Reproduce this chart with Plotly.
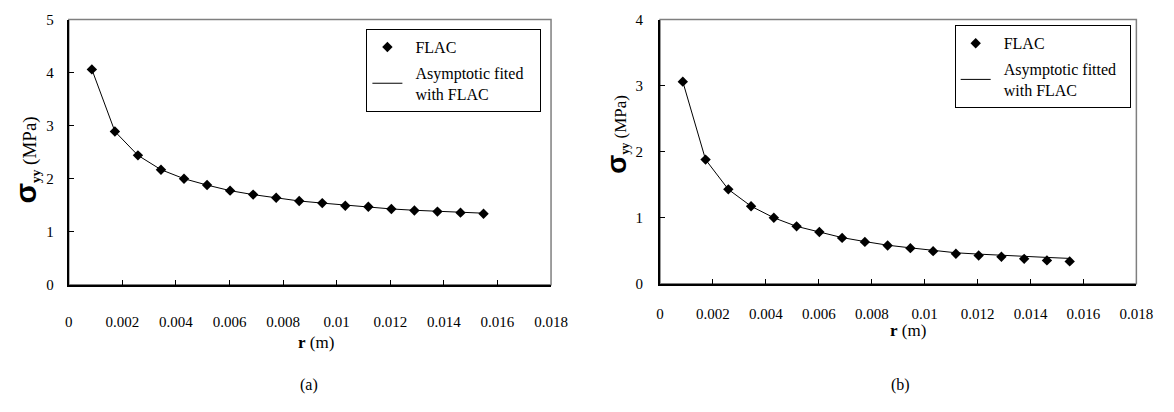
import plotly.graph_objects as go

# ---- data ----
r_a = [0.00086, 0.00172, 0.00258, 0.00344, 0.0043, 0.00516, 0.00602, 0.00688, 0.00774,
       0.0086, 0.00946, 0.01032, 0.01118, 0.01204, 0.0129, 0.01376, 0.01462, 0.01548]
flac_a = [4.06, 2.89, 2.44, 2.17, 2.00, 1.88, 1.775, 1.70, 1.64,
          1.58, 1.54, 1.49, 1.47, 1.43, 1.40, 1.38, 1.36, 1.34]
fit_a = [4.06, 2.89, 2.44, 2.17, 2.00, 1.88, 1.775, 1.70, 1.64,
         1.58, 1.54, 1.50, 1.47, 1.43, 1.405, 1.385, 1.365, 1.35]

r_b = [0.00086, 0.00172, 0.00258, 0.00344, 0.0043, 0.00516, 0.00602, 0.00688, 0.00774,
       0.0086, 0.00946, 0.01032, 0.01118, 0.01204, 0.0129, 0.01376, 0.01462, 0.01548]
flac_b = [3.06, 1.88, 1.43, 1.175, 1.00, 0.87, 0.785, 0.695, 0.635,
          0.58, 0.54, 0.495, 0.455, 0.428, 0.41, 0.378, 0.355, 0.34]
fit_b = [3.06, 1.88, 1.43, 1.175, 1.00, 0.87, 0.785, 0.70, 0.64,
         0.585, 0.545, 0.505, 0.47, 0.45, 0.43, 0.415, 0.40, 0.385]

x_ticks = [0, 0.002, 0.004, 0.006, 0.008, 0.01, 0.012, 0.014, 0.016, 0.018]
x_tick_text = ["0", "0.002", "0.004", "0.006", "0.008", "0.01", "0.012", "0.014", "0.016", "0.018"]
y_ticks_a = [0, 1, 2, 3, 4, 5]
y_ticks_b = [0, 1, 2, 3, 4]

legend_pts = "&nbsp;&nbsp;FLAC"
legend_fit_a = "&nbsp;&nbsp;Asymptotic fited&nbsp;&nbsp;&nbsp;<br>&nbsp;&nbsp;with FLAC"
legend_fit_b = "&nbsp;&nbsp;Asymptotic fitted&nbsp;&nbsp;<br>&nbsp;&nbsp;with FLAC"

W, H = 1174, 412
SERIF = "Liberation Serif"

fig = go.Figure()

def add_panel(xs, pts, fit, xa, ya, leg, fit_name):
    fig.add_trace(go.Scatter(
        x=xs, y=fit, mode="lines", name=fit_name, xaxis=xa, yaxis=ya,
        line=dict(color="black", width=1), legend=leg, legendgroup=leg + "fit",
        legendrank=2))
    fig.add_trace(go.Scatter(
        x=xs, y=pts, mode="markers", name=legend_pts, xaxis=xa, yaxis=ya,
        marker=dict(symbol="diamond", size=8, color="black"),
        legend=leg, legendgroup=leg + "pts", legendrank=1))

add_panel(r_a, flac_a, fit_a, "x", "y", "legend", legend_fit_a)
add_panel(r_b, flac_b, fit_b, "x2", "y2", "legend2", legend_fit_b)

# domains from pixel positions
ax_a = dict(x0=66, x1=557, ytop=12, ybot=288)
ax_b = dict(x0=668, x1=1153, ytop=12, ybot=287)

def xdom(p):
    return [p["x0"] / W, p["x1"] / W]

def ydom(p):
    return [1 - p["ybot"] / H, 1 - p["ytop"] / H]

common_x = dict(range=[0, 0.018], tickvals=x_ticks, ticktext=x_tick_text,
                showline=True, linecolor="black", linewidth=2, ticks="inside",
                ticklen=5, tickcolor="black", tickwidth=1, showgrid=False,
                zeroline=False, tickfont=dict(family=SERIF, size=15, color="black"))
common_y = dict(showline=True, linecolor="black", linewidth=2, ticks="inside",
                ticklen=5, tickcolor="black", tickwidth=1, showgrid=False,
                zeroline=False, tickfont=dict(family=SERIF, size=15, color="black"))

fig.update_layout(
    width=W, height=H, margin=dict(l=0, r=0, t=0, b=0),
    paper_bgcolor="white", plot_bgcolor="white",
    font=dict(family=SERIF, color="black"),
    xaxis=dict(domain=xdom(ax_a), anchor="y", ticklabelstandoff=22, **common_x),
    yaxis=dict(domain=ydom(ax_a), anchor="x", range=[0, 5], tickvals=y_ticks_a,
               ticklabelstandoff=10, **common_y),
    xaxis2=dict(domain=xdom(ax_b), anchor="y2", ticklabelstandoff=15, **common_x),
    yaxis2=dict(domain=ydom(ax_b), anchor="x2", range=[0, 4], tickvals=y_ticks_b,
                ticklabelstandoff=12, **common_y),
    legend=dict(x=369 / W, y=1 - 22 / H, xanchor="left", yanchor="top",
                bordercolor="black", borderwidth=1, bgcolor="white",
                font=dict(family=SERIF, size=16, color="black"),
                tracegroupgap=2, traceorder="grouped"),
    legend2=dict(x=968 / W, y=1 - 18 / H, xanchor="left", yanchor="top",
                 bordercolor="black", borderwidth=1, bgcolor="white",
                 font=dict(family=SERIF, size=16, color="black"),
                 tracegroupgap=2, traceorder="grouped"),
    showlegend=True,
)

# gray frame (top/right borders)
for xr, yr in (("x domain", "y domain"), ("x2 domain", "y2 domain")):
    fig.add_shape(type="rect", xref=xr, yref=yr, x0=0, x1=1, y0=0, y1=1,
                  line=dict(color="#7f7f7f", width=1.5), layer="below")

def ytitle(sigsize):
    return (f"<span style='font-family:Liberation Sans; font-weight:bold; font-size:{sigsize}px'>σ</span>"
            f"<sub><b>yy</b></sub> (MPa)")

annos = [
    dict(x=22 / W, y=1 - 158 / H, text=ytitle(30), textangle=-90,
         font=dict(family=SERIF, size=19, color="black")),
    dict(x=624 / W, y=1 - 131 / H, text=ytitle(28), textangle=-90,
         font=dict(family=SERIF, size=17, color="black")),
    dict(x=318 / W, y=1 - 348 / H, text="<b>r</b> (m)",
         font=dict(family=SERIF, size=17, color="black")),
    dict(x=920 / W, y=1 - 336 / H, text="<b>r</b> (m)",
         font=dict(family=SERIF, size=17, color="black")),
    dict(x=311 / W, y=1 - 392 / H, text="(a)",
         font=dict(family=SERIF, size=16, color="black")),
    dict(x=913 / W, y=1 - 392 / H, text="(b)",
         font=dict(family=SERIF, size=16, color="black")),
]
for a in annos:
    fig.add_annotation(xref="paper", yref="paper", showarrow=False,
                       xanchor="center", yanchor="middle", **a)

fig.write_html("out.html")
